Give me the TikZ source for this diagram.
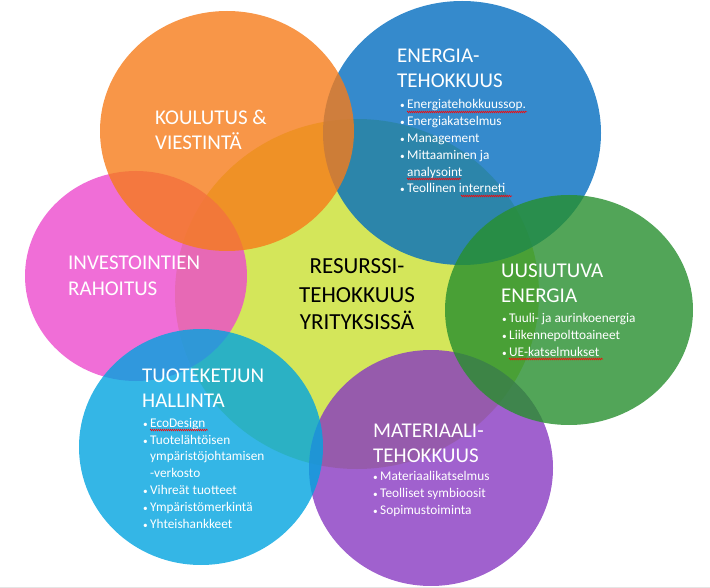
\documentclass[tikz,border=0pt]{standalone}
\usepackage{fontspec}
\setmainfont{Carlito}
\usetikzlibrary{decorations.pathmorphing}

% colours of the circles
\definecolor{r201g224b49}{RGB}{201,224,49}
\definecolor{r246g124b26}{RGB}{246,124,26}
\definecolor{r2g109b191}{RGB}{2,109,191}
\definecolor{r236g74b205}{RGB}{236,74,205}
\definecolor{r39g143b46}{RGB}{39,143,46}
\definecolor{r1g164b224}{RGB}{1,164,224}
\definecolor{r136g57b194}{RGB}{136,57,194}

\newcommand{\bitem}{\makebox[7pt][l]{\scalebox{0.7}{\textbullet}}}
\newcommand{\bcont}{\hspace*{7pt}}

\tikzset{
  blob/.style={fill opacity=0.8, draw=none},
  heading/.style={anchor=base west, inner sep=0pt, align=left, text=white,
    font=\fontsize{21}{25}\selectfont},
  centretext/.style={anchor=base, inner sep=0pt, align=center, text=black,
    font=\fontsize{23}{28}\selectfont},
  itemlist/.style={anchor=base west, inner sep=0pt, align=left, text=white,
    font=\fontsize{13.3}{16.8}\selectfont},
  spell/.style={draw=red, line width=0.5pt, decorate,
    decoration={snake, amplitude=0.9pt, segment length=2pt}}
}

\begin{document}
\begin{tikzpicture}[x=1pt,y=-1pt]
\useasboundingbox (0,0) rectangle (710,588);

% Drawing circle resurssitehokkuus
\fill[blob, fill=r201g224b49] (357,294) ellipse (182pt and 175pt);

% Drawing circle materiaalitehokkuus
\fill[blob, fill=r136g57b194] (431,468) ellipse (122pt and 118pt);

% Drawing circle investointien rahoitus
\fill[blob, fill=r236g74b205] (136,276) ellipse (111pt and 105pt);

% Drawing circle tuoteketjun hallinta
\fill[blob, fill=r1g164b224] (201,447) ellipse (122pt and 118pt);

% Drawing circle energiatehokkuus
\fill[blob, fill=r2g109b191] (462,133) ellipse (139pt and 132pt);

% Drawing circle koulutus
\fill[blob, fill=r246g124b26] (227,131) ellipse (127pt and 120pt);

% Drawing circle uusiutuva energia
\fill[blob, fill=r39g143b46] (569,310) ellipse (124pt and 115pt);

% Bottom edge
\draw[black!10, line width=0.8pt] (0,587.6) -- (710,587.6);

% Marking texts (placed at the baseline of their last line)
\node[centretext] (centre) at (357,330) {RESURSSI-\\TEHOKKUUS\\YRITYKSISSÄ};

\node[heading] (koulutus) at (155,150) {KOULUTUS \&\\VIESTINTÄ};

\node[heading] (rahoitus) at (68,295) {INVESTOINTIEN\\RAHOITUS};

\node[heading] (energia) at (397,88) {ENERGIA-\\TEHOKKUUS};
\node[itemlist] (energialist) at (400,193) {\bitem Energiatehokkuussop.\\
  \bitem Energiakatselmus\\
  \bitem Management\\
  \bitem Mittaaminen ja\\
  \bcont analysoint\\
  \bitem Teollinen interneti};

\node[heading] (uusiutuva) at (501,303) {UUSIUTUVA\\ENERGIA};
\node[itemlist] (uusiutuvalist) at (502,356) {\bitem Tuuli- ja aurinkoenergia\\
  \bitem Liikennepolttoaineet\\
  \bitem UE-katselmukset};

\node[heading] (tuoteketju) at (142,407) {TUOTEKETJUN\\HALLINTA};
\node[itemlist] (tuoteketjulist) at (143,528) {\bitem EcoDesign\\
  \bitem Tuotelähtöisen\\
  \bcont ympäristöjohtamisen\\
  \bcont -verkosto\\
  \bitem Vihreät tuotteet\\
  \bitem Ympäristömerkintä\\
  \bitem Yhteishankkeet};

\node[heading] (materiaali) at (373,462) {MATERIAALI-\\TEHOKKUUS};
\node[itemlist] (materiaalilist) at (373,514) {\bitem Materiaalikatselmus\\
  \bitem Teolliset symbioosit\\
  \bitem Sopimustoiminta};

% Marking spelling lines
\draw[spell] (407,112) -- (527,112);
\draw[spell] (407,179) -- (461,179);
\draw[spell] (461,196) -- (512,196);
\draw[spell] (509,359) -- (603,359);
\draw[spell] (150,430) -- (208,430);
\end{tikzpicture}
\end{document}
